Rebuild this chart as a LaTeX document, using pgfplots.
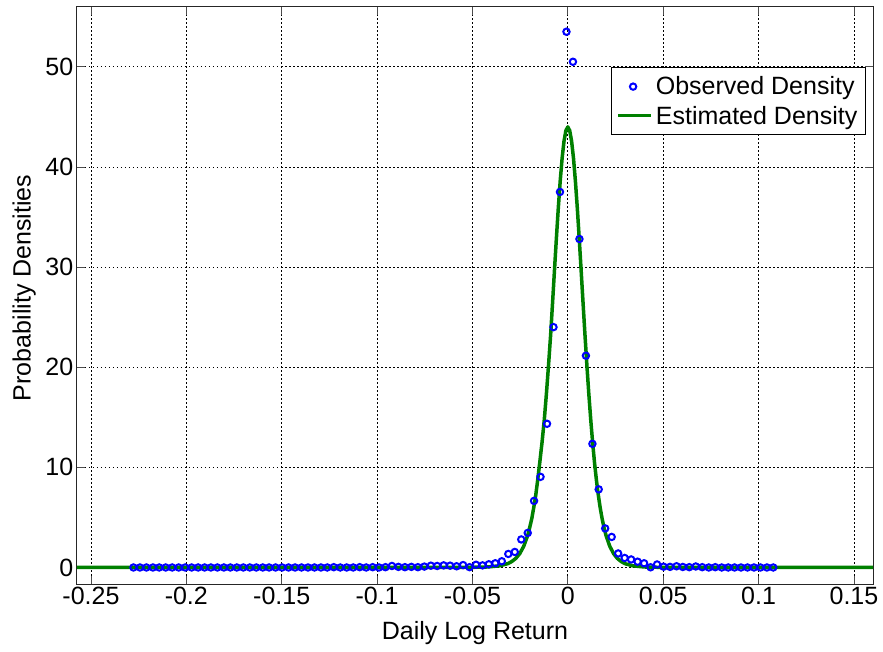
\documentclass[border=0pt]{standalone}
\usepackage{fontspec}
\setmainfont{Liberation Sans}
\usepackage{pgfplots}
\pgfplotsset{compat=1.18}
\definecolor{obsblue}{RGB}{0,0,255}
\definecolor{estgreen}{RGB}{0,128,0}
\newcommand{\chartfont}{\fontsize{25bp}{30bp}\selectfont}
\pgfplotsset{
  obslegend/.style={legend image code/.code={\draw[##1,mark repeat=2,mark phase=2]
    plot coordinates {(0bp,0bp) (15bp,0bp) (33bp,0bp)};}},
  estlegend/.style={legend image code/.code={\draw[##1] (0bp,0bp) -- (33bp,0bp);}},
}

\begin{document}
\begin{tikzpicture}
\useasboundingbox (-77bp,-68bp) rectangle (806bp,584bp);
\begin{axis}[
  at={(0,0)}, anchor=south west,
  scale only axis, width=796bp, height=577.3bp,
  xmin=-0.2573, xmax=0.16, ymin=-1.65, ymax=56,
  xtick={-0.25,-0.2,-0.15,-0.1,-0.05,0,0.05,0.1,0.15},
  ytick={0,10,20,30,40,50},
  scaled x ticks=false,
  xticklabel style={/pgf/number format/fixed, /pgf/number format/precision=2},
  /pgf/number format/assume math mode=true,
  tick label style={font=\chartfont},
  yticklabel style={inner sep=0pt, xshift=-3.5bp},
  label style={font=\chartfont},
  grid=major,
  major grid style={black, line width=0.75bp, dash pattern=on 1.5bp off 2.5bp},
  tick align=inside, major tick length=8bp,
  tick style={black!70, line width=0.75bp},
  axis line style={black!85, line width=1bp},
  xlabel={Daily Log Return},
  ylabel={Probability Densities},
  xlabel style={at={(axis description cs:0.5,-0.097)}, anchor=base},
  ylabel style={at={(axis description cs:-0.0515,0.513)}, anchor=south, inner sep=0pt},
  legend cell align=left,
  legend style={at={(0.991,0.895)}, anchor=north east, draw=black,
    line width=1bp, fill=white, font=\chartfont,
    inner xsep=5bp, inner ysep=6bp, row sep=3.5bp, nodes={inner sep=3bp}},
]
% observed histogram density, 100 bins
\addplot[only marks, mark=o, mark size=3.2bp, color=obsblue,
  mark options={line width=2bp}, obslegend]
coordinates {
(-0.2277,0) (-0.2243,0) (-0.2209,0) (-0.2175,0) (-0.2142,0)
(-0.2108,0) (-0.2074,0) (-0.2040,0) (-0.2006,0) (-0.1972,0)
(-0.1938,0) (-0.1904,0) (-0.1871,0) (-0.1837,0) (-0.1803,0)
(-0.1769,0) (-0.1735,0) (-0.1701,0) (-0.1667,0) (-0.1633,0)
(-0.1599,0) (-0.1566,0) (-0.1532,0) (-0.1498,0) (-0.1464,0)
(-0.1430,0) (-0.1396,0) (-0.1362,0) (-0.1328,0) (-0.1294,0)
(-0.1261,0) (-0.1227,0.03) (-0.1193,0) (-0.1159,0) (-0.1125,0)
(-0.1091,0.03) (-0.1057,0) (-0.1023,0.03) (-0.0990,0) (-0.0956,0.03)
(-0.0922,0.15) (-0.0888,0.06) (-0.0854,0.03) (-0.0820,0.06) (-0.0786,0.03)
(-0.0752,0.09) (-0.0718,0.18) (-0.0685,0.15) (-0.0651,0.21) (-0.0617,0.18)
(-0.0583,0.12) (-0.0549,0.24) (-0.0515,0.03) (-0.0481,0.27) (-0.0447,0.21)
(-0.0414,0.32) (-0.0380,0.42) (-0.0346,0.62) (-0.0312,1.35) (-0.0278,1.55)
(-0.0244,2.80) (-0.0210,3.45) (-0.0177,6.65) (-0.0143,9.05) (-0.0109,14.35)
(-0.0075,24.0) (-0.0041,37.5) (-0.0007,53.5) (0.0027,50.5) (0.0061,32.8)
(0.0095,21.15) (0.0129,12.35) (0.0162,7.8) (0.0196,3.9) (0.0230,3.05)
(0.0264,1.4) (0.0298,0.95) (0.0332,0.8) (0.0366,0.58) (0.0400,0.42)
(0.0434,0.02) (0.0468,0.3) (0.0502,0.08) (0.0536,0.06) (0.0570,0.12)
(0.0603,0.05) (0.0637,0.03) (0.0671,0.1) (0.0705,0.03) (0.0739,0)
(0.0773,0.03) (0.0807,0) (0.0841,0) (0.0874,0) (0.0908,0)
(0.0942,0) (0.0976,0) (0.1010,0) (0.1044,0) (0.1077,0)
};
\addlegendentry{Observed Density}
% fitted density curve
\addplot[color=estgreen, line width=3.5bp, line join=round, estlegend]
coordinates {
(-0.2573,0) (-0.0700,0) (-0.0525,0.008) (-0.0420,0.05) (-0.0357,0.17)
(-0.0315,0.38) (-0.0294,0.59) (-0.0273,0.90) (-0.0252,1.38) (-0.0231,2.12)
(-0.0210,3.22) (-0.0200,3.97) (-0.0189,4.86) (-0.0179,5.94) (-0.0168,7.22)
(-0.0158,8.72) (-0.0147,10.48) (-0.0135,12.51) (-0.0123,14.81) (-0.0112,17.38)
(-0.0101,20.21) (-0.0090,23.23) (-0.0080,26.40) (-0.0070,29.64) (-0.0060,32.82)
(-0.0050,35.84) (-0.0040,38.55) (-0.0030,40.83) (-0.0020,42.56) (-0.0010,43.63)
(0,44.0)
(0.0010,43.63) (0.0020,42.56) (0.0030,40.83) (0.0040,38.55) (0.0050,35.84)
(0.0060,32.82) (0.0070,29.64) (0.0080,26.40) (0.0090,23.23) (0.0100,20.21)
(0.0110,17.38) (0.0120,14.81) (0.0130,12.51) (0.0140,10.48) (0.0150,8.72)
(0.0160,7.22) (0.0170,5.94) (0.0180,4.86) (0.0190,3.97) (0.0200,3.22)
(0.0220,2.12) (0.0240,1.38) (0.0260,0.90) (0.0280,0.59) (0.0300,0.38)
(0.0340,0.17) (0.0400,0.05) (0.0500,0.008) (0.0650,0) (0.1600,0)
};
\addlegendentry{Estimated Density}
\end{axis}
\end{tikzpicture}
\end{document}
